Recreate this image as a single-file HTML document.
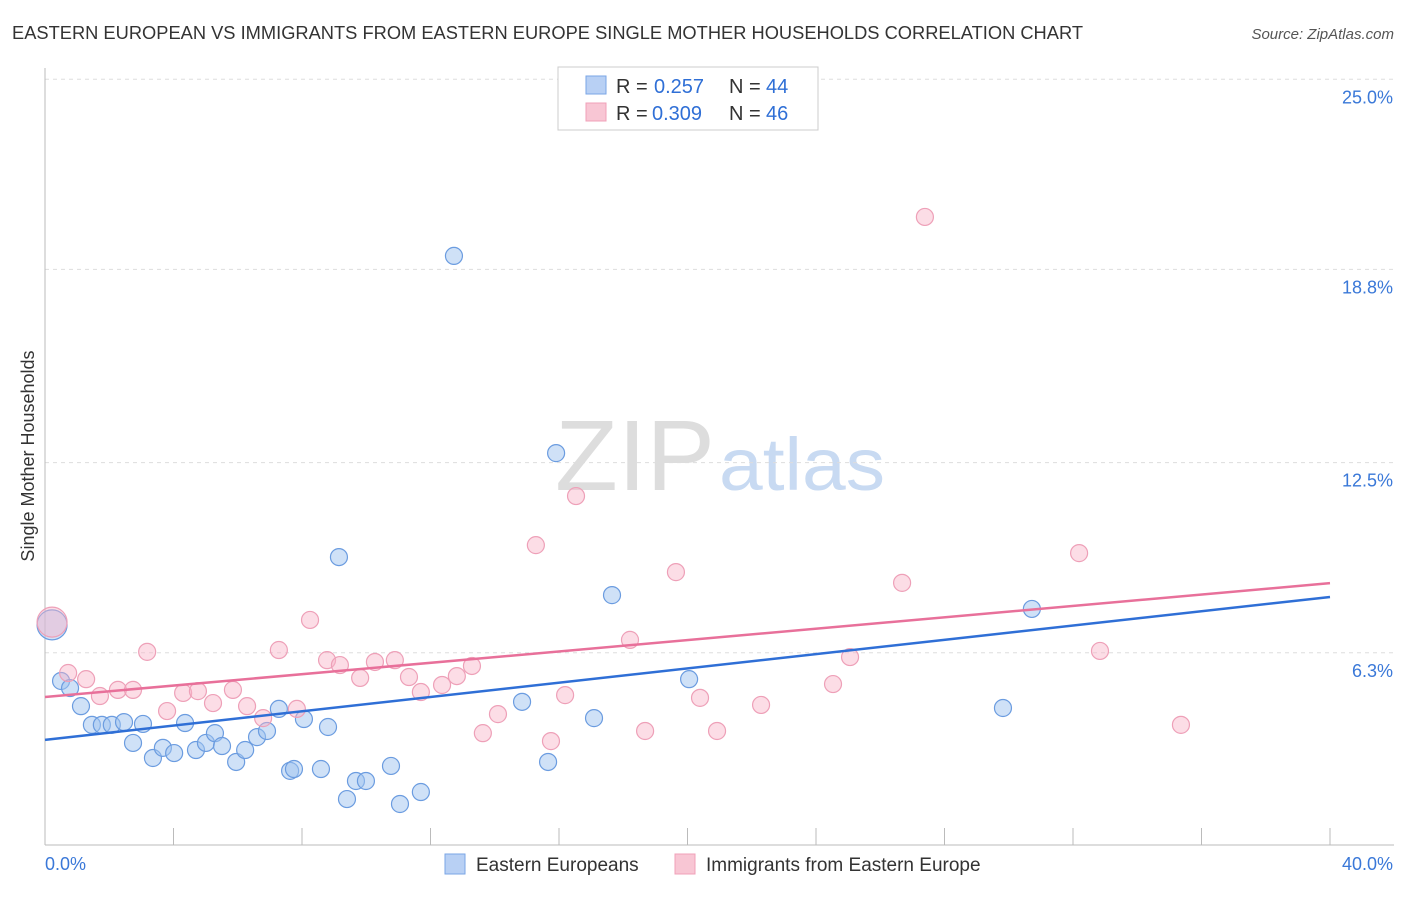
<!DOCTYPE html>
<html><head><meta charset="utf-8"><style>
body{margin:0;background:#fff;font-family:"Liberation Sans",sans-serif;}
svg text{font-family:"Liberation Sans",sans-serif;}
</style></head><body>
<svg id="chart" width="1406" height="892" xmlns="http://www.w3.org/2000/svg">
<text x="12" y="39" font-size="18" fill="#333" textLength="1071" lengthAdjust="spacingAndGlyphs">EASTERN EUROPEAN VS IMMIGRANTS FROM EASTERN EUROPE SINGLE MOTHER HOUSEHOLDS CORRELATION CHART</text>
<text x="1394" y="39" font-size="15" fill="#555" text-anchor="end" font-style="italic">Source: ZipAtlas.com</text>
<text x="555" y="490" font-size="100" fill="#ddd" font-family="Liberation Serif" textLength="160" lengthAdjust="spacingAndGlyphs">ZIP</text>
<text x="719" y="490" font-size="74" fill="#c8daf2" textLength="166" lengthAdjust="spacingAndGlyphs">atlas</text>
<text transform="translate(34,456) rotate(-90)" font-size="18" fill="#333" text-anchor="middle">Single Mother Households</text>
<g id="grid"></g><g id="axes"></g><g id="marks"></g>
<g>
<rect x="558" y="67" width="260" height="63" fill="#fff" stroke="#ccc"/>
<rect x="586" y="76" width="20" height="18" fill="#b8d0f4" stroke="#7aa6e6"/>
<text x="616" y="93" font-size="20" fill="#333">R =</text>
<text x="654" y="93" font-size="20" fill="#2f6fd6">0.257</text>
<text x="729" y="93" font-size="20" fill="#333">N =</text>
<text x="766" y="93" font-size="20" fill="#2f6fd6">44</text>
<rect x="586" y="103" width="20" height="18" fill="#f8c6d4" stroke="#f0a0b8"/>
<text x="616" y="120" font-size="20" fill="#333">R =</text>
<text x="652" y="120" font-size="20" fill="#2f6fd6">0.309</text>
<text x="729" y="120" font-size="20" fill="#333">N =</text>
<text x="766" y="120" font-size="20" fill="#2f6fd6">46</text>
</g>
<g>
<rect x="445" y="854" width="20" height="20" fill="#b8d0f4" stroke="#7aa6e6"/>
<text x="476" y="871" font-size="19" fill="#333">Eastern Europeans</text>
<rect x="675" y="854" width="20" height="20" fill="#f8c6d4" stroke="#f0a0b8"/>
<text x="706" y="871" font-size="19" fill="#333">Immigrants from Eastern Europe</text>
</g>
</svg>
<script>
const blueX=[0.22,0.50,0.78,1.12,1.46,1.77,2.08,2.46,2.74,3.05,3.36,3.67,4.02,4.36,4.70,5.01,5.29,5.51,5.95,6.23,6.60,6.91,7.28,7.63,7.75,8.06,8.59,8.81,9.15,9.40,9.68,9.99,10.77,11.05,11.70,12.73,14.85,15.66,15.91,17.09,17.65,20.05,29.82,30.72];
const blueY=[7.21,5.38,5.15,4.56,3.95,3.95,3.95,4.04,3.36,3.98,2.87,3.20,3.03,4.01,3.13,3.36,3.68,3.26,2.74,3.13,3.55,3.75,4.47,2.45,2.51,4.14,2.51,3.88,9.42,1.53,2.12,2.12,2.61,1.37,1.76,19.24,4.70,2.74,12.81,4.17,8.18,5.44,4.50,7.73];
const pinkX=[0.22,0.72,1.28,1.71,2.27,2.74,3.18,3.80,4.30,4.76,5.23,5.85,6.29,6.79,7.28,7.84,8.25,8.78,9.18,9.81,10.27,10.89,11.33,11.70,12.36,12.82,13.29,13.63,14.10,15.28,15.75,16.19,16.53,18.21,18.68,19.64,20.39,20.92,22.29,24.53,25.06,26.68,27.39,32.19,32.84,35.36];
const pinkY=[7.30,5.64,5.44,4.89,5.09,5.09,6.33,4.40,4.99,5.05,4.66,5.09,4.56,4.17,6.39,4.47,7.37,6.06,5.90,5.48,6.00,6.06,5.51,5.02,5.25,5.54,5.87,3.68,4.30,9.81,3.42,4.92,11.41,6.72,3.75,8.93,4.83,3.75,4.60,5.28,6.16,8.58,20.51,9.55,6.36,3.95];
const blueTrend=[3.46,8.12];
const pinkTrend=[4.86,8.57];
const yTicks=[25.0,18.8,12.5,6.3];
const yTickLabels=["25.0%","18.8%","12.5%","6.3%"];
const xTicks=[0,4,8,12,16,20,24,28,32,36,40];
const NS="http://www.w3.org/2000/svg";
const sx=v=>45+v/40*1285;
const sy=v=>846-v*30.67;
function mk(tag,attrs,parent){const e=document.createElementNS(NS,tag);for(const k in attrs)e.setAttribute(k,attrs[k]);parent.appendChild(e);return e;}
const grid=document.getElementById('grid'),axes=document.getElementById('axes'),marks=document.getElementById('marks');
yTicks.forEach((t,i)=>{
  const l=mk('line',{x1:45,x2:1394,y1:sy(t),y2:sy(t),stroke:'#ddd','stroke-dasharray':'4,4'},grid);
  
  
  const tx=mk('text',{x:1393,y:sy(t)+24,'font-size':18,fill:'#3a78d8','text-anchor':'end'},axes);
  tx.textContent=yTickLabels[i];
  
  
});
const ax=mk('line',{x1:45,x2:1394,y1:845,y2:845,stroke:'#bbb'},axes);


const ay=mk('line',{x1:45,x2:45,y1:68,y2:845,stroke:'#bbb'},axes);


xTicks.forEach(t=>{
  const l=mk('line',{x1:sx(t),x2:sx(t),y1:828,y2:845,stroke:'#bbb'},axes);
  
  
});
const x0=mk('text',{x:45,y:870,'font-size':18,fill:'#3a78d8'},axes);x0.textContent='0.0%';


const x1=mk('text',{x:1393,y:870,'font-size':18,fill:'#3a78d8','text-anchor':'end'},axes);x1.textContent='40.0%';


function pts(X,Y,fill,stroke,name){
  X.forEach((x,i)=>{
    const c=mk('circle',{cx:sx(x),cy:sy(Y[i]),r:i===0?15:8.5,fill:fill,stroke:stroke,'stroke-width':1.2},marks);
    
    
  });
}
pts(blueX,blueY,'rgba(160,195,240,0.5)','#6b9ce0','eastern-european-point');
pts(pinkX,pinkY,'rgba(248,180,200,0.45)','#eea0b8','immigrant-point');
const bl=mk('line',{x1:sx(0),x2:sx(40),y1:sy(blueTrend[0]),y2:sy(blueTrend[1]),stroke:'#2f6fd6','stroke-width':2.5},marks);


const pl=mk('line',{x1:sx(0),x2:sx(40),y1:sy(pinkTrend[0]),y2:sy(pinkTrend[1]),stroke:'#e8709a','stroke-width':2.5},marks);


</script>
</body></html>
